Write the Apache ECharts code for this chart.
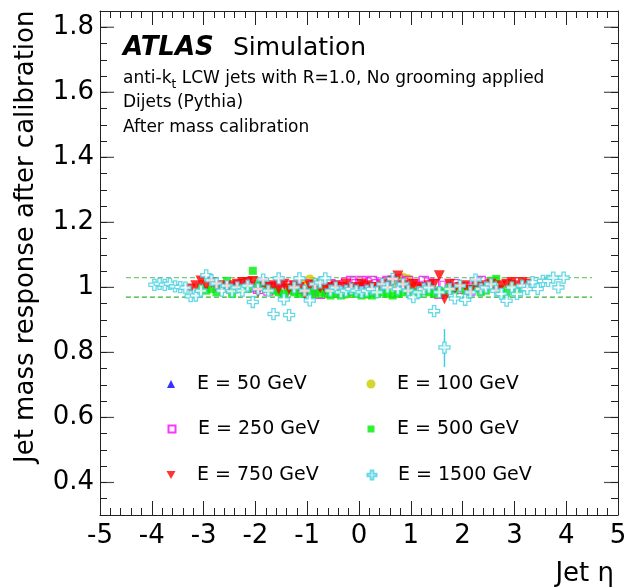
<!DOCTYPE html>
<html>
<head>
<meta charset="utf-8">
<script src="https://cdn.jsdelivr.net/npm/echarts@6/dist/echarts.min.js"></script>
<style>
html, body { margin: 0; padding: 0; background: #fff; }
#chart { width: 626px; height: 588px; }
</style>
</head>
<body>
<div id="chart"></div>
<script>
// eta bin centres shared by all energies
var etaBins = [
    -3.95, -3.85, -3.75, -3.65, -3.55, -3.45, -3.35, -3.25, -3.15, -3.05,
    -2.95, -2.85, -2.75, -2.65, -2.55, -2.45, -2.35, -2.25, -2.15, -2.05,
    -1.95, -1.85, -1.75, -1.65, -1.55, -1.45, -1.35, -1.25, -1.15, -1.05,
    -0.95, -0.85, -0.75, -0.65, -0.55, -0.45, -0.35, -0.25, -0.15, -0.05,
    0.05, 0.15, 0.25, 0.35, 0.45, 0.55, 0.65, 0.75, 0.85, 0.95,
    1.05, 1.15, 1.25, 1.35, 1.45, 1.55, 1.65, 1.75, 1.85, 1.95,
    2.05, 2.15, 2.25, 2.35, 2.45, 2.55, 2.65, 2.75, 2.85, 2.95,
    3.05, 3.15, 3.25, 3.35, 3.45, 3.55, 3.65, 3.75, 3.85, 3.95
];

// response per energy, starting at etaBins[first]
var first50 = 37;
var resp50 = [1.0, 0.995, 1.005, 1.007, 1.0, 0.995];

var first100 = 26;
var resp100 = [
    1.0, 0.995, 1.005, 1.01, 1.024, 1.015, 1.005, 1.0, 0.995, 0.99,
    0.985, 0.98, 0.985, 0.99, 0.985, 0.98, 0.985, 0.99, 1.0, 1.005,
    1.01, 1.02, 1.03, 1.025, 1.006, 0.997, 0.99, 1.0
];

var first250 = 16;
var resp250 = [
    1.0, 1.01, 1.005, 1.0, 0.995, 1.01, 0.99, 1.0, 1.015, 0.99,
    1.005, 1.0, 0.995, 1.01, 0.99, 1.005, 0.98, 1.0, 1.01, 1.005,
    1.0, 1.015, 1.02, 1.01, 1.02, 1.015, 1.02, 1.01, 1.015, 1.02,
    1.01, 1.025, 1.015, 1.02, 1.01, 1.005, 1.02, 1.015, 1.01, 0.98,
    1.005, 1.0, 1.01, 0.995, 1.0, 0.99, 1.0, 1.02
];

var first500 = 9;
var resp500 = [
    1.0, 0.99, 0.995, 0.985, 1.005, 1.02, 0.98, 0.995, 1.0, 0.995,
    1.051, 1.01, 1.005, 0.995, 0.99, 0.985, 0.98, 0.99, 0.985, 0.98,
    0.985, 0.99, 0.98, 0.985, 0.98, 0.975, 0.98, 0.975, 0.98, 0.985,
    0.98, 0.975, 0.98, 0.975, 0.98, 0.985, 0.98, 0.975, 0.98, 0.985,
    0.99, 0.985, 0.98, 0.99, 0.985, 0.98, 0.99, 0.985, 1.0, 0.99,
    1.005, 0.99, 0.995, 1.0, 0.985, 0.99, 1.02, 1.026, 0.995, 0.983,
    1.01, 0.99
];

var first750 = 7;
var resp750 = [
    0.995, 1.005, 1.02, 1.005, 1.015, 1.0, 1.005, 0.995, 1.005, 1.01,
    1.015, 1.015, 1.018, 0.985, 1.01, 1.0, 1.005, 0.995, 1.01, 0.995,
    1.005, 1.0, 0.98, 1.005, 1.007, 1.0, 0.995, 1.0, 1.005, 1.0,
    1.01, 0.995, 1.0, 1.01, 1.005, 1.0, 1.0, 1.005, 1.01, 1.02,
    1.035, 1.005, 0.995, 1.01, 1.0, 0.995, 1.005, 1.01, 1.036, 0.965,
    1.01, 0.995, 1.0, 1.005, 0.99, 1.01, 1.0, 1.005, 1.01, 0.99,
    1.005, 1.01, 1.015, 1.005, 1.015, 1.01
];

var first1500 = 0;
var resp1500 = [
    1.008, 1.011, 1.008, 1.011, 1.003, 1.001, 0.999, 0.973, 0.975, 0.99,
    1.037, 1.022, 1.012, 0.99, 1.005, 0.988, 1.0, 0.99, 1.005, 0.955,
    0.995, 1.024, 0.99, 0.918, 1.028, 0.963, 0.915, 1.0, 1.028, 0.99,
    0.96, 1.01, 1.015, 1.028, 0.99, 1.0, 0.985, 0.99, 0.995, 0.99,
    0.985, 0.99, 0.995, 0.985, 1.01, 1.0, 1.026, 0.995, 1.01, 0.99,
    0.97, 0.985, 0.995, 1.0, 0.927, 0.985, 0.815, 0.995, 0.966, 1.005,
    0.962, 0.985, 1.024, 0.995, 1.0, 1.01, 0.99, 0.98, 0.959, 1.0,
    0.98, 1.005, 0.995, 1.016, 0.995, 1.02, 1.02, 1.03, 1.0, 1.03
];
// [eta, low, high] for the visible error bar
var err1500 = [[1.65, 0.755, 0.872]];

// +-3% band
var bandEta = [-4.5, 4.5];
var bandHigh = 1.03;
var bandLow = 0.97;

var xTicks = [-5, -4, -3, -2, -1, 0, 1, 2, 3, 4, 5];
var yTickLabels = [0.4, 0.6, 0.8, 1.0, 1.2, 1.4, 1.6, 1.8];

var names = ['E = 50 GeV', 'E = 100 GeV', 'E = 250 GeV', 'E = 500 GeV', 'E = 750 GeV', 'E = 1500 GeV'];

var FONT = 'DejaVu Sans';
var CROSS = 'path://M3.5,0L6.5,0L6.5,3.5L10,3.5L10,6.5L6.5,6.5L6.5,10L3.5,10L3.5,6.5L0,6.5L0,3.5L3.5,3.5Z';
var DOWN_TRI = 'path://M0,0L10,0L5,9Z';
var CYAN = '#40d0e0';
var AXIS_COLOR = '#222';

function pts(start, vals) {
    return vals.map(function (v, i) { return [etaBins[start + i], v]; });
}

var frame = { show: true, onZero: false, lineStyle: { color: AXIS_COLOR, width: 1 } };
var xMin = xTicks[0], xMax = xTicks[xTicks.length - 1];
var yMin = 0.3, yMax = 1.85;

function yAxisDef(pos, labels) {
    return {
        type: 'value', position: pos, min: yMin, max: yMax, interval: 0.05,
        axisLine: frame,
        axisTick: { show: true, inside: true, length: 7, lineStyle: { color: AXIS_COLOR } },
        axisLabel: {
            show: labels, customValues: yTickLabels, margin: 6,
            fontFamily: FONT, fontSize: 26, color: '#000',
            formatter: function (v) { return String(Math.round(v * 10) / 10); }
        },
        splitLine: { show: false }
    };
}
function xAxisDef(pos, labels) {
    return {
        type: 'value', position: pos, min: xMin, max: xMax, interval: 1,
        axisLine: frame,
        axisTick: { show: true, inside: true, length: 14, lineStyle: { color: AXIS_COLOR } },
        minorTick: { show: true, splitNumber: 5, length: 7, lineStyle: { color: AXIS_COLOR } },
        axisLabel: { show: labels, margin: 8, fontFamily: FONT, fontSize: 26, color: '#000' },
        splitLine: { show: false }
    };
}
// long y ticks at the labelled values, drawn as thin bars hugging each frame edge
function majorTicks(edge, offset) {
    return {
        name: 'yMajor' + edge, type: 'scatter', silent: true, z: 1,
        symbol: 'rect', symbolSize: [14, 1.2], symbolOffset: [offset, 0],
        itemStyle: { color: AXIS_COLOR },
        data: yTickLabels.map(function (v) { return [edge, v]; })
    };
}

var chart = echarts.init(document.getElementById('chart'), null, { renderer: 'canvas' });

// marker centre and size of each legend entry; text starts 26px right of the marker centre
var legendIcons = [
    { cx: 171, cy: 384, h: 8 }, { cx: 371, cy: 384, h: 9 },
    { cx: 171, cy: 429, h: 7 }, { cx: 371, cy: 429, h: 7 },
    { cx: 171, cy: 475, h: 9, icon: DOWN_TRI }, { cx: 371, cy: 475, h: 9 }
];
var legends = names.map(function (n, i) {
    var p = legendIcons[i];
    var item = p.icon ? { name: n, icon: p.icon } : n;
    return {
        data: [item], left: p.cx - p.h / 2, top: p.cy - 12, padding: 0,
        itemWidth: p.h, itemHeight: p.h, selectedMode: false,
        textStyle: { fontFamily: FONT, fontSize: 19, color: '#000', lineHeight: 24,
                     padding: [0, 0, 0, 26 - p.h / 2 - 5] }
    };
});

var option = {
    backgroundColor: '#fff',
    animation: false,
    grid: { left: 100, top: 11, width: 518, height: 504, containLabel: false, outerBoundsMode: 'none' },
    xAxis: [xAxisDef('bottom', true), xAxisDef('top', false)],
    yAxis: [yAxisDef('left', true), yAxisDef('right', false)],
    legend: legends,
    graphic: [
        { type: 'text', x: 26, y: 463, rotation: Math.PI / 2,
          style: { text: 'Jet mass response after calibration', font: '26px "DejaVu Sans"', fill: '#000', align: 'left', verticalAlign: 'middle' } },
        { type: 'text', x: 614, y: 574,
          style: { text: 'Jet η', font: '26px "DejaVu Sans"', fill: '#000', align: 'right', verticalAlign: 'middle' } },
        { type: 'text', x: 123, y: 48,
          style: { text: 'ATLAS', font: 'italic bold 26px "DejaVu Sans"', fill: '#000', align: 'left', verticalAlign: 'middle' } },
        { type: 'text', x: 233, y: 48,
          style: { text: 'Simulation', font: '25px "DejaVu Sans"', fill: '#000', align: 'left', verticalAlign: 'middle' } },
        { type: 'text', x: 123, y: 79,
          style: { text: 'anti-k{t|t} LCW jets with R=1.0, No grooming applied', font: '17px "DejaVu Sans"', fill: '#000',
                   align: 'left', verticalAlign: 'middle', lineHeight: 24,
                   rich: { t: { fontFamily: FONT, fontSize: 12, lineHeight: 6, verticalAlign: 'bottom', fill: '#000' } } } },
        { type: 'text', x: 123, y: 103,
          style: { text: 'Dijets (Pythia)', font: '17px "DejaVu Sans"', fill: '#000', align: 'left', verticalAlign: 'middle' } },
        { type: 'text', x: 123, y: 127.5,
          style: { text: 'After mass calibration', font: '17px "DejaVu Sans"', fill: '#000', align: 'left', verticalAlign: 'middle' } }
    ],
    series: [
        majorTicks(xMin, 7),
        majorTicks(xMax, -7),
        { name: 'band-high', type: 'line', silent: true, symbol: 'none', z: 1,
          data: bandEta.map(function (e) { return [e, bandHigh]; }),
          lineStyle: { color: '#7cc87c', width: 1.2, type: [5, 3] } },
        { name: 'band-low', type: 'line', silent: true, symbol: 'none', z: 1,
          data: bandEta.map(function (e) { return [e, bandLow]; }),
          lineStyle: { color: '#33b033', width: 1.2, type: [5, 3] } },
        { name: names[0], type: 'scatter', symbol: 'triangle', symbolSize: 8, z: 2,
          itemStyle: { color: '#0000ff' }, data: pts(first50, resp50) },
        { name: names[1], type: 'scatter', symbol: 'circle', symbolSize: 10, z: 3,
          itemStyle: { color: '#cccc00' }, data: pts(first100, resp100) },
        { name: names[2], type: 'scatter', symbol: 'rect', symbolSize: 9, z: 4,
          itemStyle: { color: 'rgba(255,255,255,0)', borderColor: '#ff00ff', borderWidth: 1.2 }, data: pts(first250, resp250) },
        { name: names[3], type: 'scatter', symbol: 'rect', symbolSize: 8, z: 5,
          itemStyle: { color: '#00ee00' }, data: pts(first500, resp500) },
        { name: names[4], type: 'scatter', symbol: 'triangle', symbolRotate: 180, symbolSize: 11, z: 6,
          itemStyle: { color: '#ff0000' }, data: pts(first750, resp750) },
        { name: 'err1500', type: 'custom', silent: true, z: 7, data: err1500,
          renderItem: function (params, api) {
              var a = api.coord([api.value(0), api.value(1)]);
              var b = api.coord([api.value(0), api.value(2)]);
              return { type: 'line', shape: { x1: a[0], y1: a[1], x2: b[0], y2: b[1] },
                       style: { stroke: CYAN, lineWidth: 1.5 } };
          } },
        { name: names[5], type: 'scatter', symbol: CROSS, symbolSize: 11, z: 8,
          itemStyle: { color: '#ffffff', borderColor: CYAN, borderWidth: 1.3 }, data: pts(first1500, resp1500) }
    ]
};
chart.setOption(option);
</script>
</body>
</html>
